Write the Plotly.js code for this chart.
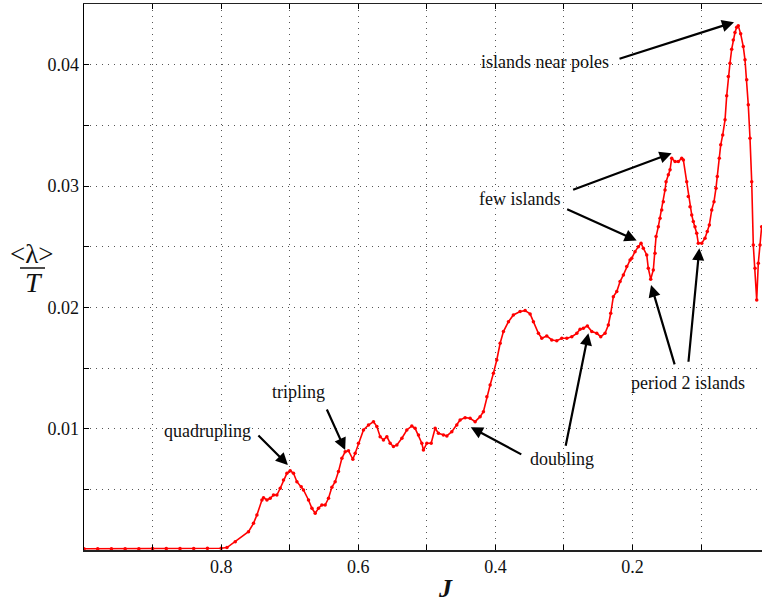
<!DOCTYPE html>
<html>
<head>
<meta charset="utf-8">
<script src="https://cdn.plot.ly/plotly-3.0.1.min.js"></script>
<style>html,body{margin:0;padding:0;background:#fff;}#chart{width:762px;height:602px;}</style>
</head>
<body>
<div id="chart"></div>
<script>
// J values (x, decreasing) and <lambda>/T values (y)
const J = [1.0,0.98,0.96,0.94,0.92,0.90,0.88,0.86,0.84,0.82,0.80,
0.7915,0.7794,0.7601,0.7528,0.7478,0.7405,0.7382,0.7332,0.7284,0.7236,0.7187,0.7138,0.7090,0.7041,0.6993,0.6945,0.6895,0.6832,0.6799,0.6726,0.6676,0.6628,0.6580,0.6531,0.6483,0.6434,0.6385,0.6337,0.6289,0.6239,0.6191,0.6143,0.6079,0.6045,0.5997,0.5924,0.5851,0.5778,0.5729,0.5681,0.5633,0.5583,0.5535,0.5487,0.5437,0.5364,0.5292,0.5219,0.5171,0.5122,0.5073,0.5050,0.5000,0.4937,0.4879,0.4831,0.4758,0.4708,0.4636,0.4563,0.4515,0.4442,0.4369,0.4296,0.4223,0.4175,0.4125,0.4077,0.4029,0.3980,0.3931,0.3883,0.3810,0.3738,0.3640,0.3567,0.3494,0.3446,0.3373,0.3324,0.3251,0.3178,0.3105,0.3032,0.2959,0.2886,0.2813,0.2765,0.2717,0.2659,0.2595,0.2522,0.2464,0.2401,0.2353,0.2318,0.2280,0.2230,0.2182,0.2134,0.2085,0.2036,0.2012,0.1964,0.1915,0.1876,0.1843,0.1793,0.1770,0.1735,0.1697,0.1672,0.1657,0.1624,0.1599,0.1574,0.1551,0.1526,0.1511,0.1478,0.1453,0.1429,0.1380,0.1332,0.1283,0.1259,0.1210,0.1187,0.1162,0.1137,0.1114,0.1089,0.1064,0.1041,0.0991,0.0943,0.0910,0.0880,0.0845,0.0812,0.0783,0.0764,0.0735,0.0714,0.0685,0.0651,0.0627,0.0603,0.0579,0.0554,0.0531,0.0506,0.0481,0.0458,0.0423,0.0385,0.0360,0.0335,0.0312,0.0287,0.0262,0.0239,0.0214,0.0189,0.0166,0.0141,0.0117];
const lam = [0.0001,0.0001,0.0001,0.0001,0.0001,0.00012,0.00012,0.00012,0.00013,0.00014,0.00015,
0.0002,0.00068,0.00151,0.0022,0.00289,0.00412,0.00431,0.00412,0.00426,0.00453,0.00453,0.00509,0.00577,0.00632,0.00654,0.00632,0.00563,0.00522,0.00495,0.00412,0.00344,0.00303,0.00344,0.00371,0.00371,0.00426,0.00517,0.00563,0.00646,0.00756,0.0081,0.00819,0.00748,0.00797,0.0088,0.00989,0.0103,0.01058,0.01017,0.00934,0.00907,0.00934,0.0088,0.00852,0.00866,0.00921,0.00989,0.01022,0.01003,0.00948,0.0088,0.00824,0.0088,0.0088,0.01003,0.00962,0.00948,0.0094,0.00975,0.0103,0.01072,0.01091,0.01086,0.01058,0.01099,0.0114,0.01264,0.0136,0.01457,0.01566,0.01704,0.0180,0.01882,0.01937,0.01965,0.01973,0.01946,0.01882,0.01786,0.01745,0.01764,0.01731,0.01725,0.01745,0.01745,0.01758,0.01786,0.01819,0.01828,0.01847,0.018,0.01786,0.01758,0.01786,0.01855,0.01951,0.02088,0.0213,0.02212,0.02267,0.02336,0.02391,0.02405,0.02459,0.025,0.02528,0.02487,0.02432,0.02322,0.02232,0.02308,0.02446,0.02583,0.02665,0.02735,0.02803,0.02871,0.02968,0.03036,0.03092,0.03133,0.03229,0.03201,0.03201,0.03229,0.03215,0.03036,0.02913,0.0283,0.02762,0.02707,0.02665,0.02611,0.02528,0.02528,0.0257,0.02624,0.02679,0.02803,0.02871,0.02982,0.03078,0.03229,0.03339,0.03421,0.03545,0.03743,0.03902,0.04012,0.04128,0.04204,0.04265,0.04309,0.0432,0.04254,0.04149,0.0404,0.03875,0.03669,0.03394,0.03036,0.02514,0.02322,0.02061,0.02363,0.02514,0.02665];

const xTicks = [0.8, 0.6, 0.4, 0.2];
const xTickText = ['0.8', '0.6', '0.4', '0.2'];
const yTicks = [0.01, 0.02, 0.03, 0.04];
const yTickText = ['0.01', '0.02', '0.03', '0.04'];

// annotation labels: [text, J, value]
const labels = [
  ['quadrupling', 0.8203, 0.00981],
  ['tripling', 0.6876, 0.01303],
  ['doubling', 0.3023, 0.0075],
  ['period 2 islands', 0.1191, 0.01377],
  ['few islands', 0.3654, 0.02894],
  ['islands near poles', 0.3276, 0.04023]
];
// arrows: [head J, head value, tail dx px, tail dy px]
const arrows = [
  [0.7026, 0.0070, -31, -31],
  [0.6191, 0.00824, -19, -42],
  [0.4359, 0.01012, 52, 28],
  [0.2644, 0.01787, -23, 114],
  [0.1730, 0.02185, 24, 81],
  [0.1026, 0.02487, -11, 115],
  [0.1430, 0.0327, -100, 37],
  [0.1940, 0.0255, -71, -32],
  [0.0520, 0.0435, -116, 37]
];

const FONT = 'Liberation Serif, Times New Roman, serif';
const GRID = {showgrid: true, gridcolor: '#555', griddash: '1px,5px', gridwidth: 1};
const annotations = [];
labels.forEach(l => annotations.push({
  x: l[1], y: l[2], xref: 'x', yref: 'y', text: l[0], showarrow: false,
  font: {family: FONT, size: 18, color: '#111'}, xanchor: 'center', yanchor: 'middle'
}));
arrows.forEach(a => annotations.push({
  x: a[0], y: a[1], xref: 'x', yref: 'y', text: '', showarrow: true,
  ax: a[2], ay: a[3], arrowhead: 2, arrowsize: 1.1, arrowwidth: 2.2, arrowcolor: '#000', standoff: 0
}));
// axis titles
annotations.push({x: (445-84)/678, y: -(588-550)/546, xref: 'paper', yref: 'paper', text: '<i><b>J</b></i>',
  showarrow: false, font: {family: FONT, size: 26, color: '#111'}, xanchor: 'center', yanchor: 'middle'});
annotations.push({x: (32-84)/678, y: (550-254)/546, xref: 'paper', yref: 'paper', text: '&lt;λ&gt;',
  showarrow: false, font: {family: FONT, size: 27, color: '#111'}, xanchor: 'center', yanchor: 'middle'});
annotations.push({x: (34-84)/678, y: (550-282)/546, xref: 'paper', yref: 'paper', text: '<i>T</i>',
  showarrow: false, font: {family: FONT, size: 28, color: '#111'}, xanchor: 'center', yanchor: 'middle'});

const trace = {
  x: J, y: lam, type: 'scatter', mode: 'lines+markers',
  line: {color: '#ff0000', width: 1.6},
  marker: {color: '#ff0000', size: 3.5, symbol: 'circle'},
  hoverinfo: 'skip'
};

const layout = {
  width: 762, height: 602,
  margin: {l: 84, r: 0, t: 4, b: 52},
  paper_bgcolor: '#fff', plot_bgcolor: '#fff',
  showlegend: false,
  font: {family: FONT, size: 18, color: '#111'},
  xaxis: Object.assign({
    range: [1.0, 0.0112], tickmode: 'array', tickvals: xTicks, ticktext: xTickText,
    ticks: 'inside', ticklen: 5, tickcolor: '#000', showline: true, linecolor: '#222', linewidth: 1.5,
    mirror: 'ticks', zeroline: false,
    tickfont: {family: FONT, size: 18, color: '#111'},
    minor: Object.assign({tickmode: 'linear', tick0: 0, dtick: 0.1, ticks: 'inside', ticklen: 5, tickcolor: '#000'}, GRID)
  }, GRID),
  yaxis: Object.assign({
    range: [0, 0.045], tickmode: 'array', tickvals: yTicks, ticktext: yTickText,
    ticks: 'inside', ticklen: 5, tickcolor: '#000', showline: true, linecolor: '#000', linewidth: 1.5,
    mirror: false, zeroline: false,
    tickfont: {family: FONT, size: 18, color: '#111'},
    minor: Object.assign({tickmode: 'linear', tick0: 0, dtick: 0.005, ticks: 'inside', ticklen: 5, tickcolor: '#000'}, GRID)
  }, GRID),
  annotations: annotations,
  shapes: [
    {type: 'line', xref: 'paper', yref: 'paper', x0: (20-84)/678, x1: (45-84)/678,
     y0: (550-268)/546, y1: (550-268)/546, line: {color: '#111', width: 1.5}}
  ]
};

Plotly.newPlot('chart', [trace], layout, {displayModeBar: false, staticPlot: true});
</script>
</body>
</html>
